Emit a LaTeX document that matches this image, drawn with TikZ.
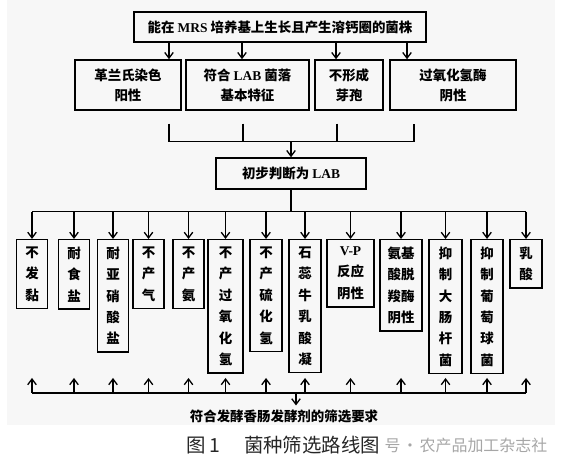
\documentclass[tikz,border=0pt]{standalone}
\usepackage{fontspec}
\setmainfont{Liberation Serif}
\newfontfamily\cjk{Noto Sans CJK SC}
\newfontfamily\lat{Liberation Serif}
\usetikzlibrary{arrows.meta}
\tikzset{%
  >={Straight Barb[length=2mm,width=3mm]},
  % Specifications for style of nodes:
  base/.style = {
    rectangle,
    draw=black,
    line width=1.5bp,
    text centered,
    font=\cjk\bfseries\fontsize{13.5}{20}\selectfont
  },
  crit/.style = {base, minimum height=50bp},
  judge/.style = {base, minimum width=150bp, minimum height=31bp},
  assay/.style = {base, anchor=north, minimum width=31bp,
    inner xsep=2bp, inner ysep=7bp,
    font=\cjk\bfseries\fontsize{13.5}{21.5}\selectfont},
  goal/.style = {font=\cjk\bfseries\fontsize{13.5}{16}\selectfont},
  figcap/.style = {font=\cjk\fontsize{19.5}{22}\selectfont, text=black!85},
}

\begin{document}
\begin{tikzpicture}[
  x=1bp, y=1bp,
  line width=1.3bp,
  node distance=58bp,
  align=center,
  ]
  % background
  \fill[black!3] (7,44) rectangle (555,469);
  \useasboundingbox (0,0) rectangle (562,469);
  % nodes
  \node (strain) [base, minimum width=292bp, minimum height=30bp] at (280,442)
  {能在 {\lat MRS} 培养基上生长且产生溶钙圈的菌株};
  \node (gram) [crit, minimum width=106bp, below of=strain, xshift=-152bp] {革兰氏染色\\阳性};
  \node (colony) [crit, minimum width=123bp, below of=strain, xshift=-32.5bp] {符合 {\lat LAB} 菌落\\基本特征};
  \node (spore) [crit, minimum width=68bp, below of=strain, xshift=69bp] {不形成\\芽孢};
  \node (catalase) [crit, minimum width=126bp, below of=strain, xshift=173bp] {过氧化氢酶\\阴性};
  \node (judge) [judge, below of=strain, xshift=11bp, yshift=-88.5bp] {初步判断为 {\lat LAB}};

  \node (nostick) [assay] at (32,230) {不\\发\\黏};
  \node (salt) [assay] at (74,230) {耐\\食\\盐};
  \node (nitrite) [assay] at (113,230) {耐\\亚\\硝\\酸\\盐};
  \node (nogas) [assay] at (148.5,230) {不\\产\\气};
  \node (noammonia) [assay] at (188.5,230) {不\\产\\氨};
  \node (noperox) [assay, minimum width=35bp] at (225.5,230) {不\\产\\过\\氧\\化\\氢};
  \node (nosulfide) [assay, minimum width=32bp] at (266,230) {不\\产\\硫\\化\\氢};
  \node (litmus) [assay, minimum width=32bp] at (305,230) {石\\蕊\\牛\\乳\\酸\\凝};
  \node (vp) [assay, minimum width=47bp] at (350.5,230) {{\lat V-P}\\反应\\阴性};
  \node (decarb) [assay, minimum width=42bp] at (401,230) {氨基\\酸脱\\羧酶\\阴性};
  \node (ecoli) [assay, minimum width=33bp] at (445.5,230) {抑\\制\\大\\肠\\杆\\菌};
  \node (staph) [assay, minimum width=32bp] at (487,230) {抑\\制\\葡\\萄\\球\\菌};
  \node (lactic) [assay, minimum width=32bp] at (526,230) {乳\\酸};

  \node (goal) [goal] at (284,53) {符合发酵香肠发酵剂的筛选要求};
  \node (cap) [figcap, anchor=east] at (384,24) {图 1\hspace{1.2em}菌种筛选路线图};
  \node (mark) [figcap, text=black!35, anchor=west, inner xsep=0pt,
    font=\cjk\fontsize{16}{22}\selectfont] at (384,24) {号\hspace{0.1em}·\hspace{0.1em}农产品加工杂志社};

  % lines
  \coordinate (s1) at ([xshift=-111bp]strain.south);
  \coordinate (s2) at ([xshift=-38bp]strain.south);
  \coordinate (s3) at ([xshift=56bp]strain.south);
  \coordinate (s4) at ([xshift=127bp]strain.south);
  \draw[->] (s1) -- (s1 |- gram.north);
  \draw[->] (s2) -- (s2 |- colony.north);
  \draw[->] (s3) -- (s3 |- spore.north);
  \draw[->] (s4) -- (s4 |- catalase.north);

  \coordinate (u1) at ([xshift=41bp, yshift=-13bp]gram.south);
  \coordinate (u2) at ([xshift=-4.5bp, yshift=-13bp]colony.south);
  \coordinate (u3) at ([xshift=-12bp, yshift=-13bp]spore.south);
  \coordinate (u4) at ([xshift=-39bp, yshift=-13bp]catalase.south);
  \coordinate (bus1) at ([yshift=16bp]judge.north);
  \draw (u1) |- (bus1) -| (u4);
  \draw (u2) -- (u2 |- bus1);
  \draw (u3) -- (u3 |- bus1);
  \draw[->] (bus1) -- (judge.north);

  \coordinate (bus2) at ([yshift=-22bp]judge.south);
  \draw (judge.south) -- (bus2);
  \draw (nostick |- bus2) -- (lactic |- bus2);
  \draw[->] (nostick |- bus2) -- (nostick.north);
  \draw[->] (salt |- bus2) -- (salt.north);
  \draw[->] (nitrite |- bus2) -- (nitrite.north);
  \draw[->] (nogas |- bus2) -- (nogas.north);
  \draw[->] (noammonia |- bus2) -- (noammonia.north);
  \draw[->] (noperox |- bus2) -- (noperox.north);
  \draw[->] (nosulfide |- bus2) -- (nosulfide.north);
  \draw[->] (litmus |- bus2) -- (litmus.north);
  \draw[->] (vp |- bus2) -- (vp.north);
  \draw[->] (decarb |- bus2) -- (decarb.north);
  \draw[->] (ecoli |- bus2) -- (ecoli.north);
  \draw[->] (staph |- bus2) -- (staph.north);
  \draw[->] (lactic |- bus2) -- (lactic.north);

  \coordinate (bus3) at (296,76);
  \coordinate (rise) at (296,91);
  \draw (nostick |- bus3) -- (lactic |- bus3);
  \draw[->] (nostick |- bus3) -- (nostick |- rise);
  \draw[->] (salt |- bus3) -- (salt |- rise);
  \draw[->] (nitrite |- bus3) -- (nitrite |- rise);
  \draw[->] (nogas |- bus3) -- (nogas |- rise);
  \draw[->] (noammonia |- bus3) -- (noammonia |- rise);
  \draw[->] (noperox |- bus3) -- (noperox |- rise);
  \draw[->] (nosulfide |- bus3) -- (nosulfide |- rise);
  \draw[->] (litmus |- bus3) -- (litmus |- rise);
  \draw[->] (vp |- bus3) -- (vp |- rise);
  \draw[->] (decarb |- bus3) -- (decarb |- rise);
  \draw[->] (ecoli |- bus3) -- (ecoli |- rise);
  \draw[->] (staph |- bus3) -- (staph |- rise);
  \draw[->] (lactic |- bus3) -- (lactic |- rise);
  \draw[->] (bus3) -- (bus3 |- goal.north);
\end{tikzpicture}
\end{document}
